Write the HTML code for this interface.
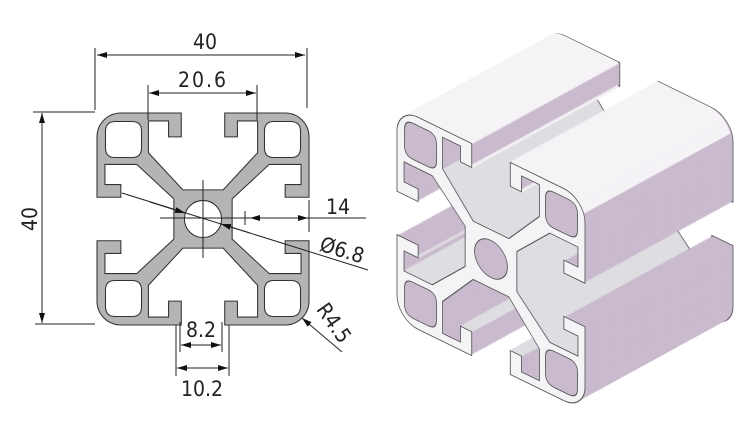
<!DOCTYPE html>
<html><head><meta charset="utf-8"><style>
html,body{margin:0;padding:0;background:#fff;}
svg{display:block;}
text{font-family:"Liberation Sans Narrow","DejaVu Sans Condensed","Liberation Sans",sans-serif;fill:#222;font-size:21px;}
</style></head><body>
<svg width="750" height="430" viewBox="0 0 750 430" xmlns="http://www.w3.org/2000/svg">
<defs>
<path id="p" fill-rule="evenodd" d="M-15.5,-20 L-4.1,-20 L-4.1,-15.5 L-6.5,-15.5 L-6.5,-18.5 L-10.3,-18.5 L-10.3,-12.5 L-3.8,-5.5 L3.8,-5.5 L10.3,-12.5 L10.3,-18.5 L6.5,-18.5 L6.5,-15.5 L4.1,-15.5 L4.1,-20 L15.5,-20 A4.5,4.5 0 0 1 20,-15.5
L20,-4.1 L15.5,-4.1 L15.5,-6.5 L18.5,-6.5 L18.5,-10.3 L12.5,-10.3 L5.5,-3.8 L5.5,3.8 L12.5,10.3 L18.5,10.3 L18.5,6.5 L15.5,6.5 L15.5,4.1 L20,4.1 L20,15.5 A4.5,4.5 0 0 1 15.5,20
L4.1,20 L4.1,15.5 L6.5,15.5 L6.5,18.5 L10.3,18.5 L10.3,12.5 L3.8,5.5 L-3.8,5.5 L-10.3,12.5 L-10.3,18.5 L-6.5,18.5 L-6.5,15.5 L-4.1,15.5 L-4.1,20 L-15.5,20 A4.5,4.5 0 0 1 -20,15.5
L-20,4.1 L-15.5,4.1 L-15.5,6.5 L-18.5,6.5 L-18.5,10.3 L-12.5,10.3 L-5.5,3.8 L-5.5,-3.8 L-12.5,-10.3 L-18.5,-10.3 L-18.5,-6.5 L-15.5,-6.5 L-15.5,-4.1 L-20,-4.1 L-20,-15.5 A4.5,4.5 0 0 1 -15.5,-20 Z
M-16.5,-18.4 L-13.4,-18.4 Q-11.6,-18.4 -11.6,-16.6 L-11.6,-13.4 Q-11.6,-11.6 -13.4,-11.6 L-16.6,-11.6 Q-18.4,-11.6 -18.4,-13.4 L-18.4,-16.5 Q-18.4,-18.4 -16.5,-18.4 Z
M16.5,-18.4 L13.4,-18.4 Q11.6,-18.4 11.6,-16.6 L11.6,-13.4 Q11.6,-11.6 13.4,-11.6 L16.6,-11.6 Q18.4,-11.6 18.4,-13.4 L18.4,-16.5 Q18.4,-18.4 16.5,-18.4 Z
M-16.5,18.4 L-13.4,18.4 Q-11.6,18.4 -11.6,16.6 L-11.6,13.4 Q-11.6,11.6 -13.4,11.6 L-16.6,11.6 Q-18.4,11.6 -18.4,13.4 L-18.4,16.5 Q-18.4,18.4 -16.5,18.4 Z
M16.5,18.4 L13.4,18.4 Q11.6,18.4 11.6,16.6 L11.6,13.4 Q11.6,11.6 13.4,11.6 L16.6,11.6 Q18.4,11.6 18.4,13.4 L18.4,16.5 Q18.4,18.4 16.5,18.4 Z
M-3.5,0 A3.5,3.5 0 1 0 3.5,0 A3.5,3.5 0 1 0 -3.5,0 Z"/>
<g id="cp" transform="matrix(4.7,2.3,0,5.3,0,0)">
<use href="#p" fill="#c9bace"/>
<path d="M-15.5,-20 L-4.1,-20 M4.1,-20 L15.5,-20 A4.5,4.5 0 0 1 19.6,-17 M-19.6,-17 A4.5,4.5 0 0 1 -15.5,-20 M-6.5,-15.5 L-4.1,-15.5 M4.1,-15.5 L6.5,-15.5" stroke="#f5f3f6" stroke-width="0.6" fill="none"/>
<path d="M-10.3,-12.5 L-3.8,-5.5 L3.8,-5.5 L10.3,-12.5 M12.5,-10.3 L5.5,-3.8 L5.5,3.8 L12.5,10.3 L18.5,10.3 M-18.5,10.3 L-12.5,10.3 M-6.5,15.5 L-4.1,15.5 M4.1,15.5 L6.5,15.5 M15.5,6.5 L18.5,6.5 M-18.5,6.5 L-15.5,6.5" stroke="#dedde1" stroke-width="0.6" fill="none"/>
</g>
<marker id="a" viewBox="0 0 10 6" refX="10" refY="3" markerWidth="10" markerHeight="6" orient="auto-start-reverse" markerUnits="userSpaceOnUse"><path d="M0,0 L10,3 L0,6 Z" fill="#111"/></marker>
</defs>

<g transform="translate(203,219) scale(5.3)">
<use href="#p" fill="#b4b4b4" stroke="#333" stroke-width="0.2"/>
</g>

<g stroke="#222" stroke-width="1" fill="none">
<line x1="95" y1="48" x2="95" y2="110"/><line x1="307" y1="48" x2="307" y2="108"/>
<line x1="97" y1="55" x2="305" y2="55" marker-start="url(#a)" marker-end="url(#a)"/>
<line x1="148" y1="85" x2="148" y2="120"/><line x1="257" y1="85" x2="257" y2="120"/>
<line x1="149" y1="93" x2="256" y2="93" marker-start="url(#a)" marker-end="url(#a)"/>
<line x1="33" y1="112" x2="95" y2="112"/><line x1="35" y1="324" x2="95" y2="324"/>
<line x1="42" y1="113" x2="42" y2="323" marker-start="url(#a)" marker-end="url(#a)"/>
<line x1="203" y1="180" x2="203" y2="258"/>
<line x1="160" y1="218" x2="250" y2="218"/>
<line x1="309" y1="200" x2="309" y2="232"/>
<line x1="245" y1="211" x2="245" y2="225"/>
<line x1="265" y1="218" x2="308" y2="218" marker-end="url(#a)"/>
<line x1="308" y1="218" x2="366" y2="218"/>
<line x1="275" y1="218" x2="250" y2="218" marker-end="url(#a)"/>
<line x1="122" y1="193" x2="368" y2="270"/>
<line x1="150" y1="202" x2="185" y2="213" marker-end="url(#a)"/>
<line x1="250" y1="233" x2="221" y2="224" marker-end="url(#a)"/>
<line x1="342" y1="352" x2="302" y2="318" marker-end="url(#a)"/>
<line x1="180" y1="322" x2="180" y2="352"/><line x1="222" y1="322" x2="222" y2="352"/>
<line x1="181" y1="345" x2="221" y2="345" marker-start="url(#a)" marker-end="url(#a)"/>
<line x1="176" y1="325" x2="176" y2="376"/><line x1="229" y1="325" x2="229" y2="376"/>
<line x1="177" y1="368" x2="228" y2="368" marker-start="url(#a)" marker-end="url(#a)"/>
</g>

<text x="205" y="49" text-anchor="middle">40</text>
<text x="203" y="87" text-anchor="middle" letter-spacing="2">20.6</text>
<text transform="translate(37,219) rotate(-90)" text-anchor="middle">40</text>
<text x="338" y="214" text-anchor="middle">14</text>
<text transform="translate(340,257) rotate(17)" text-anchor="middle">Ø6.8</text>
<text transform="translate(328,327) rotate(55)" text-anchor="middle">R4.5</text>
<text x="201" y="337" text-anchor="middle">8.2</text>
<text x="202" y="396" text-anchor="middle">10.2</text>

<g transform="translate(491,259)">
<g transform="translate(148,-81) matrix(4.7,2.3,0,5.3,0,0)"><use href="#p" fill="#c9bace" stroke="#666" stroke-width="0.2"/></g>
<use href="#cp" x="146.15" y="-79.99"/><use href="#cp" x="144.3" y="-78.98"/><use href="#cp" x="142.45" y="-77.96"/><use href="#cp" x="140.6" y="-76.95"/>
<use href="#cp" x="138.75" y="-75.94"/><use href="#cp" x="136.9" y="-74.93"/><use href="#cp" x="135.05" y="-73.91"/><use href="#cp" x="133.2" y="-72.9"/>
<use href="#cp" x="131.35" y="-71.89"/><use href="#cp" x="129.5" y="-70.88"/><use href="#cp" x="127.65" y="-69.86"/><use href="#cp" x="125.8" y="-68.85"/>
<use href="#cp" x="123.95" y="-67.84"/><use href="#cp" x="122.1" y="-66.83"/><use href="#cp" x="120.25" y="-65.81"/><use href="#cp" x="118.4" y="-64.8"/>
<use href="#cp" x="116.55" y="-63.79"/><use href="#cp" x="114.7" y="-62.78"/><use href="#cp" x="112.85" y="-61.76"/><use href="#cp" x="111" y="-60.75"/>
<use href="#cp" x="109.15" y="-59.74"/><use href="#cp" x="107.3" y="-58.73"/><use href="#cp" x="105.45" y="-57.71"/><use href="#cp" x="103.6" y="-56.7"/>
<use href="#cp" x="101.75" y="-55.69"/><use href="#cp" x="99.9" y="-54.68"/><use href="#cp" x="98.05" y="-53.66"/><use href="#cp" x="96.2" y="-52.65"/>
<use href="#cp" x="94.35" y="-51.64"/><use href="#cp" x="92.5" y="-50.63"/><use href="#cp" x="90.65" y="-49.61"/><use href="#cp" x="88.8" y="-48.6"/>
<use href="#cp" x="86.95" y="-47.59"/><use href="#cp" x="85.1" y="-46.58"/><use href="#cp" x="83.25" y="-45.56"/><use href="#cp" x="81.4" y="-44.55"/>
<use href="#cp" x="79.55" y="-43.54"/><use href="#cp" x="77.7" y="-42.53"/><use href="#cp" x="75.85" y="-41.51"/><use href="#cp" x="74" y="-40.5"/>
<use href="#cp" x="72.15" y="-39.49"/><use href="#cp" x="70.3" y="-38.48"/><use href="#cp" x="68.45" y="-37.46"/><use href="#cp" x="66.6" y="-36.45"/>
<use href="#cp" x="64.75" y="-35.44"/><use href="#cp" x="62.9" y="-34.43"/><use href="#cp" x="61.05" y="-33.41"/><use href="#cp" x="59.2" y="-32.4"/>
<use href="#cp" x="57.35" y="-31.39"/><use href="#cp" x="55.5" y="-30.38"/><use href="#cp" x="53.65" y="-29.36"/><use href="#cp" x="51.8" y="-28.35"/>
<use href="#cp" x="49.95" y="-27.34"/><use href="#cp" x="48.1" y="-26.33"/><use href="#cp" x="46.25" y="-25.31"/><use href="#cp" x="44.4" y="-24.3"/>
<use href="#cp" x="42.55" y="-23.29"/><use href="#cp" x="40.7" y="-22.28"/><use href="#cp" x="38.85" y="-21.26"/><use href="#cp" x="37" y="-20.25"/>
<use href="#cp" x="35.15" y="-19.24"/><use href="#cp" x="33.3" y="-18.23"/><use href="#cp" x="31.45" y="-17.21"/><use href="#cp" x="29.6" y="-16.2"/>
<use href="#cp" x="27.75" y="-15.19"/><use href="#cp" x="25.9" y="-14.18"/><use href="#cp" x="24.05" y="-13.16"/><use href="#cp" x="22.2" y="-12.15"/>
<use href="#cp" x="20.35" y="-11.14"/><use href="#cp" x="18.5" y="-10.13"/><use href="#cp" x="16.65" y="-9.11"/><use href="#cp" x="14.8" y="-8.1"/>
<use href="#cp" x="12.95" y="-7.09"/><use href="#cp" x="11.1" y="-6.08"/><use href="#cp" x="9.25" y="-5.06"/><use href="#cp" x="7.4" y="-4.05"/>
<use href="#cp" x="5.55" y="-3.04"/><use href="#cp" x="3.7" y="-2.03"/><use href="#cp" x="1.85" y="-1.01"/>
<g transform="matrix(4.7,2.3,0,5.3,0,0)"><use href="#p" fill="#f4f4f6" stroke="#555" stroke-width="0.18"/></g>
</g>
</svg>
</body></html>
